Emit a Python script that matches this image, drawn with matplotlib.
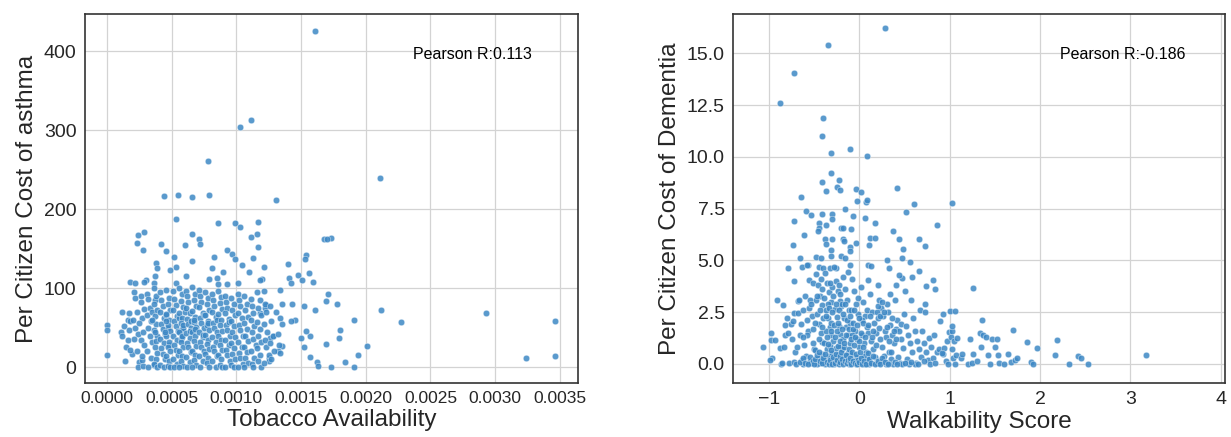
import matplotlib
matplotlib.use("Agg")
import matplotlib.pyplot as plt
import numpy as np

plt.rcParams['font.family'] = ['Liberation Sans', 'DejaVu Sans']

# ---------------- Left panel data: (tobacco availability x 1e5, asthma cost) ----------------
asthma_outliers = [
    (161, 425), (103, 304), (111, 313), (78, 261), (211, 239), (44, 217), (55, 218), (66, 215),
    (79, 218), (131, 211), (53, 188), (99, 182), (86, 182), (103, 177), (117, 184), (29, 171),
    (24, 167), (66, 169), (71, 162), (111, 165), (116, 168), (168, 162), (173, 163), (170, 162),
    (23, 157), (28, 148), (42, 156), (72, 156), (60, 155), (117, 152), (93, 148), (46, 147),
    (97, 143), (113, 138), (52, 140), (83, 140), (154, 142), (153, 137), (38, 132), (66, 134),
    (99, 137), (140, 130), (104, 129), (121, 127), (39, 125), (53, 127), (81, 125), (90, 121),
    (110, 121), (156, 119), (148, 117), (141, 113), (49, 123), (37, 115), (61, 115), (79, 112),
    (85, 113), (120, 112), (118, 110), (151, 110), (159, 108), (142, 107), (18, 108), (30, 110),
    (36, 106), (53, 107), (86, 105), (101, 107), (93, 105),
    (134, 98), (171, 92), (169, 84), (178, 80), (135, 80), (143, 80), (152, 77), (161, 72),
    (212, 72), (227, 57), (293, 68), (346, 58), (324, 12), (346, 14), (191, 60), (201, 27),
    (194, 16), (180, 47), (179, 37), (169, 29), (184, 7), (191, 0), (173, 0), (162, 7), (163, 2),
    (157, 40), (154, 46), (150, 37), (152, 25), (157, 13), (145, 60), (142, 59), (134, 62),
    (135, 55), (135, 27), (132, 20), (128, 39), (126, 37), (125, 12), (125, 8), (123, 79),
    (122, 75), (118, 69), (0, 54), (0, 47), (0, 16),
]
asthma_core = [
    (11, 45), (12, 40), (13, 52), (12, 70), (16, 60), (15, 25), (14, 8), (17, 47), (16, 35), (18, 58),
    (17, 68), (19, 17), (18, 22),
    (21, 95), (22, 88), (20, 60), (23, 70), (22, 50), (24, 42), (21, 36), (25, 6), (24, 0), (26, 82),
    (27, 62), (28, 45), (26, 35), (29, 28), (27, 9), (28, 2), (25, 56), (29, 74), (26, 90), (27, 14),
    (22, 107), (23, 20), (29, 108),
    (31, 93), (32, 86), (33, 75), (31, 66), (34, 58), (32, 50), (33, 40), (35, 32), (31, 20), (34, 12),
    (36, 3), (32, 0), (37, 85), (35, 70), (36, 100), (38, 90), (36, 80), (39, 72), (37, 65), (38, 55),
    (36, 47), (39, 40), (38, 33), (37, 25), (39, 18), (38, 10), (36, 4), (39, 0), (35, 60), (37, 45),
    (41, 95), (42, 85), (43, 78), (41, 70), (44, 62), (42, 55), (43, 48), (45, 42), (41, 36), (44, 30),
    (42, 24), (43, 17), (45, 10), (41, 3), (44, 0), (46, 66), (47, 50), (48, 28), (46, 98), (48, 88),
    (47, 80), (49, 73), (46, 67), (48, 60), (47, 53), (49, 46), (46, 39), (48, 32), (47, 26), (49, 20),
    (46, 14), (48, 8), (47, 2), (49, 0), (45, 44), (46, 58),
    (51, 96), (52, 86), (53, 79), (51, 72), (54, 65), (52, 58), (53, 52), (55, 46), (51, 40), (54, 34),
    (52, 28), (53, 22), (55, 16), (51, 10), (54, 4), (52, 0), (56, 62), (57, 36), (58, 48), (56, 100),
    (58, 92), (57, 84), (59, 76), (56, 69), (58, 62), (57, 56), (59, 50), (56, 44), (58, 38), (57, 32),
    (59, 26), (56, 20), (58, 14), (57, 8), (59, 2), (56, 0), (60, 70), (59, 54), (58, 40),
    (61, 97), (62, 90), (63, 82), (61, 75), (64, 68), (62, 61), (63, 55), (65, 49), (61, 43), (64, 37),
    (62, 31), (63, 25), (65, 19), (61, 13), (64, 7), (62, 0), (65, 58), (64, 46), (66, 101), (68, 93),
    (67, 85), (69, 78), (66, 71), (68, 64), (67, 57), (69, 51), (66, 45), (68, 39), (67, 33), (69, 27),
    (66, 21), (68, 15), (67, 9), (69, 3), (66, 0), (68, 48), (67, 60),
    (71, 98), (72, 90), (73, 83), (71, 76), (74, 69), (72, 62), (73, 56), (75, 50), (71, 44), (74, 38),
    (72, 32), (73, 26), (75, 20), (71, 14), (74, 8), (72, 0), (75, 66), (74, 41), (76, 95), (78, 87),
    (77, 80), (79, 73), (76, 66), (78, 59), (77, 53), (79, 47), (76, 41), (78, 35), (77, 29), (79, 23),
    (76, 17), (78, 11), (77, 5), (79, 0), (78, 56),
    (81, 92), (82, 85), (83, 77), (81, 70), (84, 63), (82, 56), (83, 50), (85, 44), (81, 38), (84, 32),
    (82, 26), (83, 20), (85, 14), (81, 8), (84, 0), (85, 60), (86, 97), (88, 89), (87, 81), (89, 74),
    (86, 67), (88, 60), (87, 53), (89, 46), (86, 40), (88, 34), (87, 28), (89, 22), (86, 16), (88, 10),
    (87, 3), (89, 0),
    (91, 90), (92, 82), (93, 75), (91, 68), (94, 61), (92, 54), (93, 47), (95, 40), (91, 34), (94, 28),
    (92, 22), (93, 15), (95, 8), (91, 0), (94, 57), (96, 88), (98, 80), (97, 73), (99, 66), (96, 59),
    (98, 52), (97, 45), (99, 38), (96, 31), (98, 24), (97, 17), (99, 10), (96, 3), (98, 0),
    (101, 93), (102, 85), (103, 77), (101, 69), (104, 62), (102, 54), (103, 47), (105, 39), (101, 32),
    (104, 25), (102, 18), (103, 11), (105, 4), (101, 0), (106, 90), (108, 80), (107, 72), (109, 64),
    (106, 56), (108, 48), (107, 40), (109, 33), (106, 26), (108, 19), (107, 12), (109, 5), (106, 0),
    (111, 86), (112, 77), (113, 68), (111, 60), (114, 52), (112, 44), (113, 36), (115, 28), (111, 20),
    (114, 12), (112, 4), (113, 0), (116, 95), (118, 85), (117, 75), (119, 66), (116, 57), (118, 48),
    (117, 40), (119, 32), (116, 24), (118, 16), (117, 8), (119, 0),
    (121, 97), (122, 80), (123, 70), (121, 55), (124, 45), (122, 35), (123, 25), (125, 15), (121, 5),
    (126, 78), (127, 58), (128, 40), (126, 30), (129, 20), (127, 10), (131, 70), (132, 42), (133, 28),
    (134, 18),
]
asthma_pairs = asthma_outliers + asthma_core
tobacco_availability = [p[0] / 1e5 for p in asthma_pairs]
asthma_cost = [p[1] for p in asthma_pairs]
tobacco_ticks = [0.0, 0.0005, 0.0010, 0.0015, 0.0020, 0.0025, 0.0030, 0.0035]
asthma_ticks = [0, 100, 200, 300, 400]

# ---------------- Right panel data: (walkability score, dementia cost) ----------------
dementia_outliers = [
    (0.28, 16.2), (-0.35, 15.4), (-0.73, 14.07), (-0.88, 12.6), (-0.40, 11.9), (-0.42, 11.0),
    (-0.11, 10.4), (-0.31, 10.2), (0.08, 10.05), (-0.32, 9.2), (-0.23, 8.9), (-0.42, 8.77),
    (-0.25, 8.56), (-0.22, 8.4), (-0.37, 8.36), (-0.04, 8.43), (0.02, 8.31), (0.42, 8.5),
    (-0.65, 8.04), (-0.03, 7.86), (0.07, 7.83), (0.08, 7.9), (1.03, 7.78), (0.60, 7.7),
    (-0.16, 7.5), (0.52, 7.33), (-0.59, 7.39), (-0.54, 7.18), (-0.41, 7.26), (-0.30, 7.23),
    (-0.07, 7.15), (-0.73, 6.89), (0.06, 7.07), (0.17, 6.8), (-0.30, 7.02), (-0.45, 6.82),
    (-0.45, 6.58), (-0.46, 6.4), (-0.37, 6.69), (-0.20, 6.56), (-0.18, 6.58), (-0.09, 6.5),
    (0.37, 6.43), (0.86, 6.71), (-0.61, 6.24), (0.66, 6.01), (0.44, 6.05), (0.12, 6.06),
    (0.17, 6.06), (-0.38, 6.05), (-0.30, 6.01), (-0.18, 6.01), (-0.17, 5.93), (-0.04, 5.82),
    (-0.10, 5.64), (0.11, 5.72), (-0.37, 5.8), (-0.74, 5.72), (0.73, 5.7), (0.48, 5.54),
    (-0.10, 5.46), (-0.31, 5.51), (-0.48, 5.17), (-0.66, 5.14), (-0.43, 5.12), (-0.31, 5.2),
    (-0.20, 5.2), (-0.16, 5.14), (0.47, 5.1), (0.31, 5.0), (-0.79, 4.65), (-0.64, 4.7),
    (-0.57, 4.76), (-0.45, 4.67), (-0.40, 4.65), (-0.33, 4.65), (-0.26, 4.65), (-0.10, 4.8),
    (0.10, 4.8), (0.13, 4.75), (0.33, 4.62), (0.56, 4.91), (0.66, 4.47), (-0.13, 4.46),
    (0.81, 4.05), (0.58, 4.2), (0.47, 4.13), (1.26, 3.66), (-0.72, 4.02), (0.74, 3.78),
    (0.84, 3.6), (-0.91, 3.08), (-0.85, 2.84), (-0.68, 3.06), (0.73, 2.9), (1.0, 2.56),
    (1.06, 2.56), (0.92, 2.4), (1.36, 2.12), (1.70, 1.64), (2.19, 1.17), (1.86, 1.05),
    (1.97, 0.78), (2.17, 0.42), (2.42, 0.37), (2.45, 0.29), (2.32, 0.0), (2.53, 0.0),
    (3.17, 0.44), (-1.07, 0.83), (-0.98, 1.51), (-0.98, 1.18), (-0.93, 1.18), (-0.97, 0.3),
    (-0.99, 0.2), (-0.87, 0.0),
]
dementia_core = [
    (-0.88, 0.75), (-0.84, 0.8), (-0.86, 0.05), (-0.82, 1.9), (-0.80, 2.2), (-0.83, 1.4),
    (-0.78, 0.05), (-0.76, 1.95), (-0.74, 2.05), (-0.72, 2.45), (-0.75, 1.2), (-0.71, 0.6),
    (-0.79, 1.5), (-0.73, 0.1),
    (-0.68, 2.45), (-0.66, 1.4), (-0.64, 0.2), (-0.62, 0.02), (-0.67, 3.1), (-0.63, 2.6),
    (-0.61, 0.9), (-0.65, 1.95), (-0.69, 0.8), (-0.60, 3.3),
    (-0.58, 4.8), (-0.56, 4.05), (-0.55, 3.1), (-0.53, 2.3), (-0.57, 1.6), (-0.52, 1.0),
    (-0.59, 0.4), (-0.54, 0.05), (-0.51, 3.9), (-0.56, 2.7), (-0.58, 1.4), (-0.50, 0.7), (-0.55, 0.15),
    (-0.48, 4.35), (-0.46, 3.8), (-0.44, 3.3), (-0.42, 2.85), (-0.47, 2.4), (-0.45, 1.95),
    (-0.43, 1.5), (-0.41, 1.05), (-0.49, 0.65), (-0.46, 0.3), (-0.44, 0.05), (-0.42, 3.6),
    (-0.48, 3.1), (-0.40, 2.2), (-0.45, 1.2), (-0.41, 0.5), (-0.47, 0.0), (-0.43, 4.1),
    (-0.38, 4.4), (-0.36, 3.9), (-0.34, 3.45), (-0.32, 3.0), (-0.37, 2.6), (-0.35, 2.2),
    (-0.33, 1.8), (-0.31, 1.4), (-0.39, 1.0), (-0.36, 0.7), (-0.34, 0.4), (-0.32, 0.1),
    (-0.38, 0.0), (-0.30, 3.7), (-0.35, 2.9), (-0.31, 2.0), (-0.37, 1.6), (-0.33, 0.85),
    (-0.39, 0.25), (-0.30, 0.55),
    (-0.28, 4.7), (-0.26, 4.0), (-0.24, 3.5), (-0.22, 3.05), (-0.27, 2.65), (-0.25, 2.25),
    (-0.23, 1.85), (-0.21, 1.45), (-0.29, 1.1), (-0.26, 0.75), (-0.24, 0.45), (-0.22, 0.15),
    (-0.28, 0.0), (-0.20, 2.8), (-0.25, 1.6), (-0.21, 0.9), (-0.27, 0.3), (-0.23, 3.8),
    (-0.18, 4.2), (-0.16, 3.6), (-0.14, 3.1), (-0.12, 2.6), (-0.17, 2.2), (-0.15, 1.8),
    (-0.13, 1.4), (-0.11, 1.0), (-0.19, 0.7), (-0.16, 0.4), (-0.14, 0.1), (-0.12, 0.0),
    (-0.10, 2.0), (-0.18, 1.2), (-0.13, 0.55), (-0.19, 2.9),
    (-0.08, 4.1), (-0.06, 3.5), (-0.04, 2.9), (-0.02, 2.4), (-0.07, 2.0), (-0.05, 1.6),
    (-0.03, 1.2), (-0.01, 0.8), (-0.09, 0.5), (-0.06, 0.2), (-0.04, 0.0), (-0.02, 3.2),
    (-0.08, 1.4), (-0.03, 0.35), (-0.09, 2.6),
    (0.02, 3.7), (0.04, 3.0), (0.06, 2.3), (0.08, 1.8), (0.03, 1.4), (0.05, 1.0), (0.07, 0.6),
    (0.09, 0.3), (0.01, 0.05), (0.06, 0.0), (0.08, 2.6), (0.03, 2.1), (0.10, 1.5), (0.05, 0.4),
    (0.09, 4.05),
    (0.12, 3.4), (0.14, 2.5), (0.16, 2.0), (0.18, 1.5), (0.13, 1.1), (0.15, 0.7), (0.17, 0.35),
    (0.19, 0.05), (0.11, 0.0), (0.20, 2.2), (0.14, 1.3), (0.18, 0.9), (0.20, 3.8),
    (0.22, 3.1), (0.24, 2.7), (0.26, 2.3), (0.28, 1.6), (0.23, 1.2), (0.25, 0.8), (0.27, 0.4),
    (0.29, 0.0), (0.21, 0.05), (0.30, 2.9), (0.26, 0.15), (0.22, 1.75),
    (0.32, 2.5), (0.34, 1.9), (0.36, 1.4), (0.38, 1.0), (0.33, 0.6), (0.35, 0.25), (0.37, 0.0),
    (0.31, 0.05), (0.40, 1.7), (0.39, 3.1), (0.34, 3.4),
    (0.42, 2.1), (0.44, 1.6), (0.46, 1.2), (0.48, 0.75), (0.43, 0.35), (0.45, 0.05), (0.47, 0.0),
    (0.41, 3.8), (0.49, 2.4), (0.44, 4.3), (0.46, 1.95),
    (0.52, 1.85), (0.54, 1.4), (0.56, 1.0), (0.58, 0.6), (0.53, 0.25), (0.55, 0.0), (0.57, 3.1),
    (0.59, 2.2), (0.51, 3.5),
    (0.62, 1.6), (0.64, 1.1), (0.66, 0.7), (0.68, 0.35), (0.63, 0.05), (0.61, 0.0), (0.67, 2.6),
    (0.69, 1.6),
    (0.72, 1.0), (0.74, 0.6), (0.76, 0.2), (0.78, 0.0), (0.73, 2.5), (0.77, 1.25), (0.79, 0.8),
    (0.82, 0.3), (0.84, 0.05), (0.86, 0.6), (0.88, 0.7), (0.83, 1.4), (0.89, 2.05),
    (0.92, 0.5), (0.94, 0.75), (0.96, 0.15), (0.98, 0.0), (0.91, 0.55), (0.97, 1.1), (0.99, 1.55),
    (1.01, 1.3), (1.03, 1.6), (1.05, 1.1), (1.02, 0.7), (1.04, 0.3), (1.06, 0.0), (1.08, 1.25),
    (1.07, 0.45), (1.03, 1.85),
    (1.12, 0.3), (1.14, 0.5), (1.20, 0.0), (1.22, 1.2), (1.25, 0.05), (1.26, 0.5), (1.30, 0.15),
    (1.34, 1.5), (1.37, 1.4), (1.40, 1.3), (1.35, 0.8), (1.42, 0.45), (1.45, 0.0), (1.47, 1.2),
    (1.50, 0.8), (1.52, 1.2), (1.53, 0.45), (1.55, 0.05), (1.60, 0.0), (1.65, 0.5), (1.68, 0.1),
    (1.72, 0.2), (1.75, 0.3), (1.90, 0.1), (1.92, 0.0),
]
# dense band near zero cost and lower-middle cluster
dementia_dense = [
    (-0.70, 0.02), (-0.66, 0.1), (-0.63, 0.28), (-0.60, 0.05), (-0.57, 0.0), (-0.55, 0.35),
    (-0.52, 0.12), (-0.50, 0.02), (-0.49, 0.25), (-0.47, 0.45), (-0.45, 0.6), (-0.44, 0.15),
    (-0.42, 0.03), (-0.40, 0.3), (-0.38, 0.5), (-0.36, 0.08), (-0.35, 0.95), (-0.34, 0.0),
    (-0.33, 0.2), (-0.31, 0.65), (-0.30, 0.02), (-0.29, 0.35), (-0.27, 0.05), (-0.26, 0.5),
    (-0.25, 0.2), (-0.24, 0.85), (-0.23, 0.0), (-0.22, 0.4), (-0.21, 0.1), (-0.20, 0.6),
    (-0.19, 0.25), (-0.18, 0.0), (-0.17, 0.8), (-0.16, 0.12), (-0.15, 0.45), (-0.14, 0.03),
    (-0.13, 0.2), (-0.12, 0.7), (-0.11, 0.08), (-0.10, 0.3), (-0.09, 0.0), (-0.08, 0.6),
    (-0.07, 0.15), (-0.06, 0.9), (-0.05, 0.05), (-0.04, 0.5), (-0.03, 0.0), (-0.02, 0.2),
    (-0.01, 1.1), (0.00, 0.1), (0.01, 0.6), (0.02, 0.3), (0.03, 0.0), (0.04, 0.8),
    (0.05, 0.15), (0.07, 0.02), (0.09, 0.55), (0.11, 0.25), (0.13, 0.05), (0.15, 0.4),
    (0.17, 0.0), (0.20, 0.15), (0.23, 0.0), (0.25, 0.3), (0.28, 0.08), (0.32, 0.02),
    (0.35, 0.6), (0.39, 0.1), (0.42, 0.0), (0.50, 0.05), (0.57, 0.1), (0.65, 0.02), (0.71, 0.15),
    (-0.62, 1.3), (-0.58, 2.1), (-0.54, 2.9), (-0.52, 1.7), (-0.49, 2.0), (-0.47, 3.3),
    (-0.44, 2.6), (-0.41, 1.8), (-0.39, 3.2), (-0.37, 2.3), (-0.36, 1.3), (-0.34, 2.7),
    (-0.33, 3.9), (-0.32, 1.6), (-0.30, 2.5), (-0.29, 3.3), (-0.28, 1.9), (-0.27, 1.3),
    (-0.26, 2.9), (-0.24, 2.0), (-0.23, 2.6), (-0.22, 1.1), (-0.21, 3.4), (-0.19, 1.7),
    (-0.18, 2.4), (-0.17, 1.0), (-0.16, 2.9), (-0.15, 1.4), (-0.14, 2.1), (-0.12, 1.7),
    (-0.11, 2.3), (-0.09, 1.2), (-0.07, 1.7), (-0.06, 2.6), (-0.05, 1.3), (-0.03, 1.9),
    (0.00, 2.2), (0.02, 1.5), (0.04, 2.0), (0.06, 1.3), (0.09, 1.9), (0.12, 2.3),
    (0.15, 1.6), (0.19, 2.5), (0.21, 2.8), (0.23, 2.3), (0.25, 3.0), (0.27, 2.5),
    (0.29, 1.3), (0.31, 1.8), (0.33, 1.1), (0.36, 2.2), (0.38, 1.6), (0.41, 1.2),
]
dementia_pairs = dementia_outliers + dementia_core + dementia_dense
walkability_score = [p[0] for p in dementia_pairs]
dementia_cost = [p[1] for p in dementia_pairs]
walk_ticks = [-1, 0, 1, 2, 3, 4]
dementia_ticks = [0.0, 2.5, 5.0, 7.5, 10.0, 12.5, 15.0]

pearson_left = "Pearson R:0.113"
pearson_right = "Pearson R:-0.186"

# ---------------- Figure ----------------
fig = plt.figure(figsize=(12.31, 4.37), dpi=100)
axL = fig.add_axes([0.069, 0.1236, 0.4005, 0.8444])
axR = fig.add_axes([0.5955, 0.1236, 0.3997, 0.8444])

point_color = '#3d88c5'

def style(ax):
    ax.set_axisbelow(True)
    ax.grid(True, color='#d3d3d3', linewidth=0.9)
    for s in ax.spines.values():
        s.set_color('#333333')
        s.set_linewidth(1.2)
    ax.tick_params(length=0, pad=6, colors='#262626')

axL.scatter(tobacco_availability, asthma_cost, s=22, color=point_color, alpha=0.85,
            edgecolors='white', linewidths=0.3, zorder=3)
axL.set_xlim(-0.00017, 0.00364)
axL.set_ylim(-20, 447)
axL.set_xticks(tobacco_ticks)
axL.set_xticklabels([f"{t:.4f}" for t in tobacco_ticks], fontsize=12.5)
axL.set_yticks(asthma_ticks)
axL.set_yticklabels([str(t) for t in asthma_ticks], fontsize=14)
axL.set_xlabel("Tobacco Availability", fontsize=17.5, color='#262626', labelpad=2)
axL.set_ylabel("Per Citizen Cost of asthma", fontsize=17.5, color='#262626', labelpad=4)
axL.text(0.665, 0.889, pearson_left, transform=axL.transAxes, fontsize=11.5, va='center', color='black')
style(axL)

axR.scatter(walkability_score, dementia_cost, s=22, color=point_color, alpha=0.85,
            edgecolors='white', linewidths=0.3, zorder=3)
axR.set_xlim(-1.4, 4.05)
axR.set_ylim(-0.92, 16.9)
axR.set_xticks(walk_ticks)
axR.set_xticklabels(["\u22121", "0", "1", "2", "3", "4"], fontsize=14)
axR.set_yticks(dementia_ticks)
axR.set_yticklabels([f"{t:.1f}" for t in dementia_ticks], fontsize=14)
axR.set_xlabel("Walkability Score", fontsize=17.5, color='#262626', labelpad=2)
axR.set_ylabel("Per Citizen Cost of Dementia", fontsize=17.5, color='#262626', labelpad=4)
axR.text(0.665, 0.889, pearson_right, transform=axR.transAxes, fontsize=11.5, va='center', color='black')
style(axR)

fig.savefig("out.png", dpi=100)
